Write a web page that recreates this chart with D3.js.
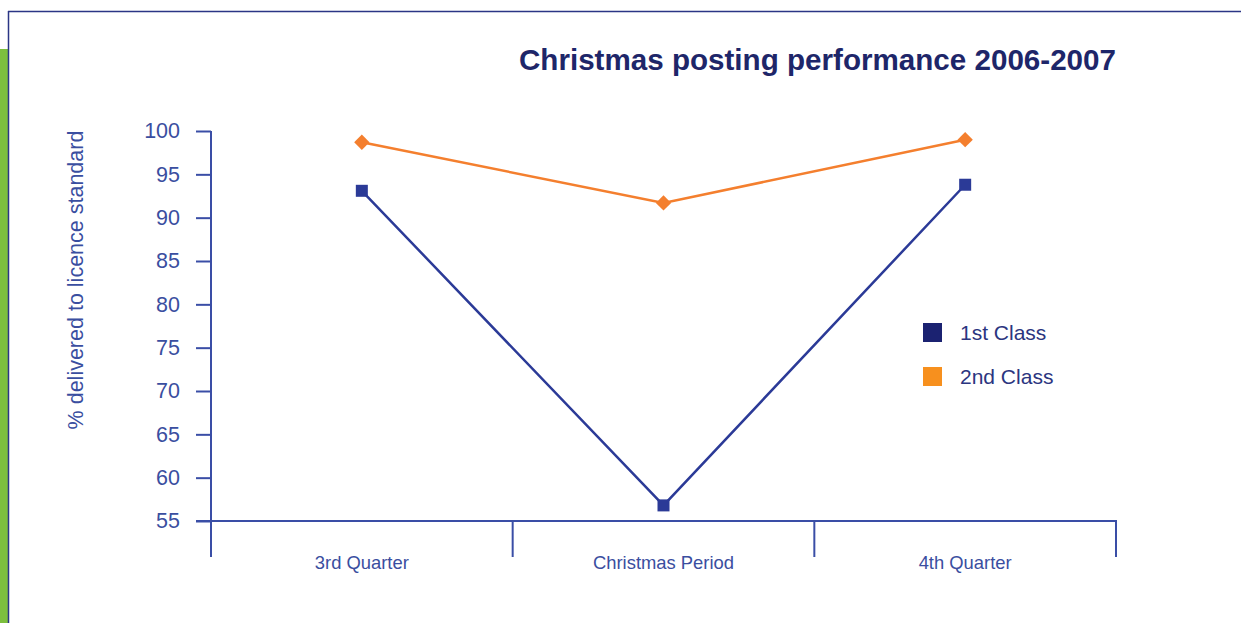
<!DOCTYPE html>
<html>
<head>
<meta charset="utf-8">
<script src="https://cdn.jsdelivr.net/npm/d3@7"></script>
<style>
  html, body { margin: 0; padding: 0; background: #ffffff; }
  svg { display: block; }
</style>
</head>
<body>
<svg id="chart" width="1241" height="623"></svg>
<script>
// Quarterly delivery performance, % delivered to licence standard
const categories = ["3rd Quarter", "Christmas Period", "4th Quarter"];
const firstClass = [93.1, 56.8, 93.8];
const secondClass = [98.7, 91.7, 99.0];
const yTicks = [55, 60, 65, 70, 75, 80, 85, 90, 95, 100];
const seriesNames = ["1st Class", "2nd Class"];

const svg = d3.select("#chart");
const axisColor = "#3a4ea6";
const font = "'Liberation Sans', Arial, sans-serif";

// Page frame and side accent
svg.append("rect").attr("x", 0).attr("y", 49).attr("width", 8).attr("height", 574).attr("fill", "#7cbf3e");
svg.append("line").attr("x1", 8.5).attr("x2", 8.5).attr("y1", 11).attr("y2", 623)
  .attr("stroke", "#2b3585").attr("stroke-width", 1.5);
svg.append("line").attr("x1", 8).attr("x2", 1241).attr("y1", 11.5).attr("y2", 11.5)
  .attr("stroke", "#2b3585").attr("stroke-width", 1.5);

const x = d3.scaleBand().domain(categories).range([211, 1116]).padding(0);
const y = d3.scaleLinear().domain([55, 100]).range([521, 131]);

// Title
svg.append("text")
  .attr("x", 1116).attr("y", 70)
  .attr("text-anchor", "end")
  .attr("font-family", font).attr("font-weight", "bold").attr("font-size", 29.6)
  .attr("fill", "#1e2669")
  .text("Christmas posting performance 2006-2007");

// Y axis
const yAxis = d3.axisLeft(y).tickValues(yTicks).tickSize(15).tickPadding(16);
const gy = svg.append("g").attr("transform", "translate(211,0)").call(yAxis);
gy.select(".domain").attr("stroke", axisColor).attr("stroke-width", 2).attr("d", "M0,131V521");
gy.selectAll(".tick line").attr("stroke", axisColor).attr("stroke-width", 2);
gy.selectAll(".tick text").attr("fill", "#3a4ea0").attr("font-family", font).attr("font-size", 21.5);

// X axis baseline and category separators
svg.append("line").attr("x1", 196).attr("x2", 1117).attr("y1", 521).attr("y2", 521)
  .attr("stroke", axisColor).attr("stroke-width", 2);
const edges = categories.map(c => x(c)).concat([x(categories[categories.length - 1]) + x.bandwidth()]);
svg.selectAll(".sep").data(edges).enter().append("line")
  .attr("x1", d => d).attr("x2", d => d).attr("y1", 521).attr("y2", 557)
  .attr("stroke", axisColor).attr("stroke-width", 2);
svg.selectAll(".cat").data(categories).enter().append("text")
  .attr("x", d => x(d) + x.bandwidth() / 2).attr("y", 569)
  .attr("text-anchor", "middle")
  .attr("font-family", font).attr("font-size", 18.4)
  .attr("fill", "#3a4ea0")
  .text(d => d);

// Y axis title
svg.append("text")
  .attr("transform", "translate(83,280) rotate(-90)")
  .attr("text-anchor", "middle")
  .attr("font-family", font).attr("font-size", 21.5)
  .attr("fill", "#3a4ea0")
  .text("% delivered to licence standard");

const cx = d => x(d) + x.bandwidth() / 2;
const line = d3.line().x(d => cx(d.c)).y(d => y(d.v));

const s1 = categories.map((c, i) => ({ c, v: firstClass[i] }));
const s2 = categories.map((c, i) => ({ c, v: secondClass[i] }));

// 2nd Class series (diamonds)
svg.append("path").datum(s2).attr("d", line)
  .attr("fill", "none").attr("stroke", "#f47f2e").attr("stroke-width", 2.5);
svg.selectAll(".d2").data(s2).enter().append("path")
  .attr("transform", d => `translate(${cx(d.c)},${y(d.v)})`)
  .attr("d", d3.symbol().type(d3.symbolDiamond2).size(150))
  .attr("fill", "#f47f2e");

// 1st Class series (squares)
svg.append("path").datum(s1).attr("d", line)
  .attr("fill", "none").attr("stroke", "#2b3a97").attr("stroke-width", 2.5);
svg.selectAll(".d1").data(s1).enter().append("rect")
  .attr("x", d => cx(d.c) - 6).attr("y", d => y(d.v) - 6)
  .attr("width", 12).attr("height", 12)
  .attr("fill", "#2b3a97");

// Legend
const legendColors = ["#1b2271", "#f7901e"];
const lg = svg.selectAll(".lg").data(seriesNames).enter().append("g")
  .attr("transform", (d, i) => `translate(923,${323 + i * 44})`);
lg.append("rect").attr("width", 19).attr("height", 19).attr("fill", (d, i) => legendColors[i]);
lg.append("text").attr("x", 37).attr("y", 17)
  .attr("font-family", font).attr("font-size", 21)
  .attr("fill", "#2b3580")
  .text(d => d);
</script>
</body>
</html>
